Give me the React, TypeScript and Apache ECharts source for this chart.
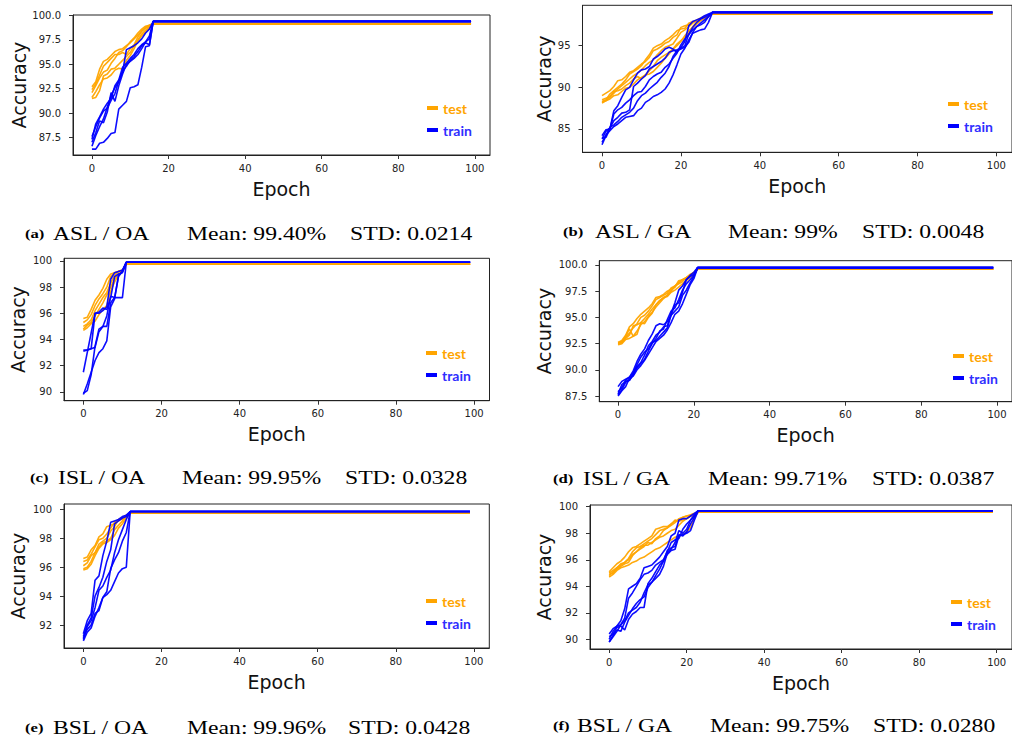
import React, { useEffect, useRef } from "react";
import * as echarts from "echarts";

// Each run: accuracy per epoch during the ramp; the last value is held flat until LAST_EPOCH.
const LAST_EPOCH = 99;
const X_TICKS = [0, 20, 40, 60, 80, 100];

// (a) ASL / OA
const A_TEST = [
  [92.7, 93.2, 94.5, 95.3, 95.5, 95.9, 96.3, 96.5, 96.6, 96.9, 97.2, 97.6, 98.0, 98.4, 98.7, 98.9, 99.2],
  [92.1, 92.8, 93.6, 94.2, 94.4, 95.1, 95.6, 96.2, 96.4, 96.8, 97.3, 97.7, 98.2, 98.6, 98.9, 99.0, 99.1],
  [91.5, 91.6, 92.3, 93.8, 94.0, 94.5, 94.6, 95.0, 95.4, 95.8, 96.2, 96.9, 97.5, 98.1, 98.5, 98.8, 99.15],
  [91.6, 92.2, 92.9, 93.5, 93.6, 93.9, 94.4, 94.6, 94.5, 95.4, 95.9, 96.6, 97.4, 97.9, 98.3, 98.7, 99.1],
  [92.4, 93.0, 93.9, 94.8, 95.2, 95.6, 96.0, 96.0, 96.2, 96.0, 96.6, 97.0, 97.8, 98.4, 98.8, 99.0, 99.2],
];
const A_TRAIN = [
  [87.6, 88.6, 89.5, 90.2, 90.5, 91.3, 92.0, 93.3, 94.2, 96.5, 96.7, 96.9, 97.2, 97.6, 98.2, 98.6, 99.4],
  [87.3, 88.9, 89.6, 90.4, 91.0, 91.5, 92.8, 93.4, 94.7, 95.1, 95.6, 96.0, 96.6, 97.0, 97.3, 97.6, 99.4],
  [86.6, 87.7, 88.6, 89.4, 90.6, 91.8, 92.6, 93.2, 94.3, 94.8, 95.4, 95.8, 96.3, 96.9, 97.2, 97.0, 99.4],
  [86.3, 86.3, 86.9, 87.0, 87.4, 87.9, 88.0, 90.4, 90.8, 91.2, 92.6, 92.7, 92.9, 94.7, 96.8, 96.9, 99.4],
  [87.0, 88.0, 89.2, 89.0, 90.1, 92.1, 91.2, 92.8, 94.0, 95.0, 95.3, 95.6, 96.0, 96.6, 97.3, 97.9, 99.4],
];
const A_YTICKS = [87.5, 90.0, 92.5, 95.0, 97.5, 100.0];

// (b) ASL / GA
const B_TEST = [
  [89.0, 89.3, 89.6, 90.1, 90.8, 90.9, 91.3, 91.8, 92.0, 92.4, 92.8, 93.1, 93.6, 94.4, 94.6, 94.9, 95.3, 95.5, 96.0, 96.3, 97.2, 97.4, 97.5, 97.8, 98.0, 98.2, 98.5, 98.6, 98.8],
  [88.3, 88.5, 89.2, 89.6, 90.0, 90.4, 90.9, 91.6, 91.9, 92.2, 92.6, 93.3, 93.9, 94.7, 95.0, 95.2, 95.6, 95.9, 96.3, 96.8, 97.0, 97.1, 97.7, 97.9, 98.0, 98.3, 98.5, 98.6, 98.8],
  [88.1, 88.4, 88.6, 89.0, 89.1, 89.5, 89.9, 90.0, 90.4, 90.9, 91.2, 91.5, 92.0, 92.5, 93.2, 93.6, 93.9, 94.2, 94.6, 95.0, 95.5, 96.2, 96.8, 97.2, 97.6, 98.0, 98.3, 98.5, 98.8],
  [88.5, 88.7, 88.9, 89.5, 89.6, 89.8, 90.2, 90.5, 91.0, 91.3, 91.0, 91.5, 91.6, 91.9, 92.4, 92.9, 93.5, 94.0, 94.6, 95.2, 95.6, 96.0, 96.5, 97.3, 97.8, 98.1, 98.4, 98.6, 98.8],
  [88.2, 88.4, 88.8, 89.3, 89.8, 90.2, 90.6, 91.0, 91.4, 91.7, 92.1, 92.6, 93.0, 93.3, 93.9, 94.4, 94.8, 95.0, 95.2, 95.9, 96.6, 96.9, 97.3, 97.7, 98.1, 98.3, 98.4, 98.6, 98.8],
];
const B_TRAIN = [
  [84.2, 84.9, 85.0, 87.2, 87.8, 88.8, 89.7, 90.0, 90.9, 91.7, 92.1, 92.2, 92.5, 93.4, 93.7, 94.1, 94.6, 94.8, 94.6, 94.2, 94.8, 95.5, 97.4, 97.9, 98.1, 98.3, 98.6, 98.8, 99.0],
  [83.8, 84.7, 85.1, 86.0, 86.4, 86.9, 87.0, 87.3, 90.1, 90.5, 91.0, 91.4, 92.2, 92.5, 92.8, 93.1, 93.5, 94.2, 94.4, 94.5, 94.7, 95.0, 96.4, 97.2, 97.8, 98.2, 98.4, 98.7, 99.0],
  [83.1, 84.2, 85.2, 85.5, 85.9, 86.4, 86.7, 87.0, 87.5, 88.4, 89.0, 89.3, 89.8, 90.2, 90.6, 91.2, 91.7, 92.5, 93.7, 94.4, 94.6, 94.8, 95.4, 96.6, 97.3, 97.5, 97.8, 98.5, 99.0],
  [83.4, 84.3, 84.8, 85.3, 85.6, 86.0, 86.4, 86.5, 86.6, 87.2, 87.5, 88.2, 88.5, 88.9, 89.1, 89.4, 89.8, 90.5, 91.5, 92.7, 94.0, 94.7, 95.7, 96.5, 96.7, 96.9, 97.0, 97.8, 99.0],
  [83.9, 84.0, 85.0, 86.8, 87.3, 87.6, 88.1, 88.5, 89.0, 89.4, 89.5, 90.1, 90.9, 91.3, 91.6, 91.8, 92.4, 92.8, 93.5, 94.1, 95.1, 95.8, 96.3, 96.9, 97.3, 97.7, 98.1, 98.5, 99.0],
];
const B_YTICKS = [85, 90, 95];

// (c) ISL / OA
const C_TEST = [
  [95.6, 95.7, 96.3, 97.0, 97.4, 97.9, 98.6, 99.0, 99.1, 99.2, 99.3, 99.75],
  [95.3, 95.5, 95.9, 96.6, 97.1, 97.5, 98.0, 98.8, 99.1, 99.2, 99.3, 99.75],
  [95.0, 95.2, 95.5, 96.2, 96.7, 97.2, 97.6, 98.3, 98.9, 99.2, 99.25, 99.75],
  [94.8, 95.1, 95.3, 95.8, 96.3, 96.8, 97.4, 98.0, 98.6, 99.0, 99.2, 99.75],
  [94.7, 94.9, 95.2, 95.4, 95.9, 96.3, 96.6, 97.7, 98.4, 98.9, 99.2, 99.75],
];
const C_TRAIN = [
  [93.2, 93.2, 93.3, 96.0, 96.0, 96.2, 96.5, 98.6, 99.1, 99.2, 99.3, 99.9],
  [91.5, 93.0, 94.5, 96.0, 96.1, 96.4, 96.3, 97.2, 98.8, 99.0, 99.1, 99.9],
  [89.9, 90.1, 91.3, 93.5, 94.8, 95.0, 95.0, 96.8, 97.2, 97.2, 97.2, 99.9],
  [89.8, 90.6, 91.5, 92.4, 93.0, 93.3, 93.9, 96.5, 97.1, 98.9, 99.2, 99.9],
  [93.1, 93.2, 93.3, 93.4, 94.6, 95.0, 95.8, 97.3, 97.2, 98.8, 99.2, 99.9],
];
const C_YTICKS = [90, 92, 94, 96, 98, 100];

// (d) ISL / GA
const D_TEST = [
  [92.6, 92.8, 93.3, 94.1, 94.4, 94.9, 95.3, 95.6, 95.9, 96.3, 96.9, 97.0, 97.2, 97.5, 97.7, 97.9, 98.3, 98.6, 98.7, 98.9, 99.2, 99.6],
  [92.5, 92.7, 93.1, 93.5, 94.0, 94.4, 95.0, 95.2, 95.6, 96.1, 96.7, 96.9, 97.1, 97.3, 97.8, 98.0, 98.2, 98.4, 98.8, 99.0, 99.2, 99.6],
  [92.4, 92.5, 92.9, 93.0, 93.2, 93.4, 94.5, 94.9, 95.3, 95.8, 96.2, 96.6, 96.9, 97.0, 97.4, 97.6, 97.9, 98.2, 98.5, 98.8, 99.1, 99.6],
  [92.6, 92.6, 93.2, 93.9, 93.2, 93.7, 94.3, 94.6, 95.1, 95.5, 96.0, 96.4, 96.8, 97.1, 97.6, 97.9, 98.5, 98.6, 98.8, 99.0, 99.3, 99.6],
  [92.5, 92.6, 93.0, 93.3, 94.2, 94.3, 94.5, 94.4, 95.0, 95.4, 96.2, 96.6, 96.9, 97.1, 97.5, 98.0, 98.3, 98.6, 98.8, 99.1, 99.3, 99.6],
];
const D_TRAIN = [
  [88.4, 88.9, 89.1, 89.3, 89.9, 90.8, 91.5, 92.0, 92.8, 93.4, 94.2, 94.4, 94.3, 94.6, 95.2, 96.2, 96.4, 97.4, 98.6, 99.0, 99.3, 99.75],
  [87.7, 88.6, 88.9, 89.0, 89.6, 90.3, 90.7, 91.4, 92.3, 92.7, 93.3, 93.6, 94.1, 94.2, 95.4, 96.4, 97.6, 98.0, 98.6, 98.9, 99.1, 99.75],
  [87.6, 88.1, 88.8, 89.0, 89.5, 90.2, 90.6, 91.0, 91.8, 92.5, 93.0, 93.7, 93.9, 94.8, 95.6, 95.9, 96.7, 97.6, 98.2, 98.6, 99.0, 99.75],
  [87.9, 88.3, 89.0, 89.3, 89.7, 90.5, 91.2, 91.7, 92.0, 92.6, 92.8, 93.2, 93.6, 94.0, 95.2, 95.6, 96.0, 97.1, 97.6, 98.3, 98.9, 99.75],
  [87.5, 88.0, 88.4, 89.2, 89.4, 90.0, 90.4, 90.9, 91.5, 92.1, 92.7, 93.0, 93.3, 93.8, 94.5, 95.3, 95.6, 96.3, 97.2, 98.1, 98.7, 99.75],
];
const D_YTICKS = [87.5, 90.0, 92.5, 95.0, 97.5, 100.0];

// (e) BSL / OA
const E_TEST = [
  [96.6, 96.7, 97.2, 97.5, 98.1, 98.3, 98.8, 98.9, 99.0, 99.3, 99.4, 99.6, 99.75],
  [96.4, 96.5, 96.9, 97.4, 97.9, 98.0, 98.3, 98.7, 99.1, 99.2, 99.4, 99.5, 99.75],
  [96.1, 96.3, 96.8, 97.0, 97.6, 97.8, 98.0, 98.5, 98.8, 99.3, 99.3, 99.6, 99.75],
  [95.9, 96.0, 96.4, 97.0, 97.4, 97.7, 97.8, 98.0, 98.6, 98.9, 99.2, 99.5, 99.75],
  [95.8, 95.9, 96.2, 96.8, 97.3, 97.6, 97.7, 97.9, 98.2, 98.7, 99.0, 99.4, 99.75],
];
const E_TRAIN = [
  [91.4, 92.3, 92.8, 95.1, 95.4, 96.8, 97.8, 99.1, 99.2, 99.3, 99.5, 99.6, 99.85],
  [91.2, 92.0, 92.5, 94.0, 94.6, 95.3, 96.4, 97.2, 99.0, 99.2, 99.4, 99.5, 99.85],
  [91.0, 91.9, 92.3, 93.2, 94.4, 94.7, 95.3, 95.8, 97.0, 97.9, 98.6, 99.3, 99.85],
  [90.9, 91.5, 91.8, 92.6, 93.2, 93.9, 94.3, 95.9, 96.5, 97.0, 97.8, 98.4, 99.85],
  [91.1, 91.7, 92.0, 92.8, 93.0, 93.9, 94.1, 94.4, 95.0, 95.6, 95.9, 96.0, 99.85],
];
const E_YTICKS = [92, 94, 96, 98, 100];

// (f) BSL / GA
const F_TEST = [
  [95.1, 95.4, 95.7, 95.9, 96.2, 96.6, 96.9, 97.0, 97.2, 97.4, 97.6, 97.8, 98.3, 98.4, 98.5, 98.5, 98.7, 98.9, 99.0, 99.2, 99.3, 99.4, 99.5, 99.6],
  [95.0, 95.2, 95.4, 95.7, 95.8, 96.1, 96.6, 96.9, 97.0, 97.2, 97.4, 97.6, 97.9, 98.2, 98.3, 98.4, 98.6, 98.8, 99.1, 99.2, 99.3, 99.3, 99.4, 99.6],
  [94.8, 95.1, 95.3, 95.5, 95.7, 95.8, 96.3, 96.6, 96.8, 97.0, 97.3, 97.2, 97.6, 97.8, 98.2, 98.4, 98.7, 99.0, 98.9, 99.0, 99.1, 99.3, 99.4, 99.6],
  [94.7, 94.9, 95.2, 95.4, 95.5, 95.6, 95.8, 95.9, 96.1, 96.2, 96.4, 96.6, 96.8, 96.9, 97.1, 97.3, 97.5, 97.7, 97.8, 97.9, 98.1, 98.4, 99.2, 99.6],
  [94.9, 95.0, 95.4, 95.6, 95.8, 96.0, 96.4, 96.6, 96.9, 97.1, 97.1, 97.3, 97.5, 97.7, 97.8, 98.0, 98.2, 98.3, 98.6, 98.9, 99.1, 99.3, 99.4, 99.6],
];
const F_TRAIN = [
  [90.4, 90.8, 91.0, 91.4, 92.3, 93.8, 94.0, 94.2, 94.6, 95.4, 95.5, 95.6, 95.9, 96.2, 96.6, 97.0, 97.8, 98.0, 99.0, 99.1, 99.1, 99.3, 99.5, 99.7],
  [90.0, 90.6, 91.0, 91.1, 91.6, 93.1, 93.5, 94.0, 94.5, 94.9, 95.0, 95.2, 95.6, 95.8, 96.0, 96.6, 97.3, 97.5, 97.6, 98.3, 98.7, 99.0, 99.4, 99.7],
  [89.8, 90.3, 90.7, 90.6, 91.3, 91.8, 92.3, 92.7, 93.0, 93.2, 93.9, 94.3, 94.6, 94.9, 95.5, 96.5, 96.8, 97.3, 98.2, 98.0, 98.3, 99.0, 99.3, 99.7],
  [89.8, 90.2, 90.6, 91.1, 91.4, 92.0, 92.2, 92.4, 92.8, 93.5, 94.1, 94.3, 94.8, 95.3, 95.9, 96.7, 96.9, 97.0, 97.9, 97.8, 98.1, 98.7, 99.2, 99.7],
  [90.2, 90.4, 90.9, 91.0, 90.7, 91.5, 91.9, 92.1, 92.4, 92.4, 94.2, 94.6, 95.1, 95.6, 95.9, 96.4, 96.7, 96.8, 97.8, 97.9, 98.0, 98.2, 99.0, 99.7],
];
const F_YTICKS = [90, 92, 94, 96, 98, 100];

const CAPTIONS = [
  ["(a)", "ASL / OA", "Mean: 99.40%", "STD: 0.0214"],
  ["(b)", "ASL / GA", "Mean: 99%", "STD: 0.0048"],
  ["(c)", "ISL / OA", "Mean: 99.95%", "STD: 0.0328"],
  ["(d)", "ISL / GA", "Mean: 99.71%", "STD: 0.0387"],
  ["(e)", "BSL / OA", "Mean: 99.96%", "STD: 0.0428"],
  ["(f)", "BSL / GA", "Mean: 99.75%", "STD: 0.0280"],
];

const PANELS = [
  { test: A_TEST, train: A_TRAIN, yTicks: A_YTICKS, dec: 1 },
  { test: B_TEST, train: B_TRAIN, yTicks: B_YTICKS, dec: 0 },
  { test: C_TEST, train: C_TRAIN, yTicks: C_YTICKS, dec: 0 },
  { test: D_TEST, train: D_TRAIN, yTicks: D_YTICKS, dec: 1 },
  { test: E_TEST, train: E_TRAIN, yTicks: E_YTICKS, dec: 0 },
  { test: F_TEST, train: F_TRAIN, yTicks: F_YTICKS, dec: 0 },
];

// layout (pixels) and axis extents
const LAYOUT = [
  { left: 73, top: 15, width: 417, height: 140, ymin: 85.7, ymax: 100.05, yGap: 45, lx: 427, ly: 101, capY: 234, capX: [25, 53, 187, 350] },
  { left: 582.5, top: 5.3, width: 433.4, height: 147, ymin: 82.2, ymax: 99.85, yGap: 29, lx: 948, ly: 97, capY: 232, capX: [563, 595, 728, 862] },
  { left: 64, top: 258.3, width: 425.5, height: 142.4, ymin: 89.33, ymax: 100.2, yGap: 36.5, lx: 426, ly: 346, capY: 478, capX: [30, 58, 182, 345] },
  { left: 599.3, top: 260.7, width: 421, height: 141, ymin: 86.96, ymax: 100.41, yGap: 46, lx: 953, ly: 349, capY: 479, capX: [553, 583, 708, 872] },
  { left: 64, top: 504, width: 425.3, height: 144, ymin: 90.41, ymax: 100.37, yGap: 36.5, lx: 426, ly: 594, capY: 727.5, capX: [25, 53, 187, 348] },
  { left: 590, top: 505, width: 425.8, height: 144, ymin: 89.27, ymax: 100.13, yGap: 36.5, lx: 951, ly: 595, capY: 725.5, capX: [553, 577, 710, 873] },
];

const ORANGE = "#FFA500";
const BLUE = "#0000FF";

function runData(run: number[]) {
  const pts: [number, number][] = run.map((v, i) => [i, v]);
  pts.push([LAST_EPOCH, run[run.length - 1]]);
  return pts;
}

function buildOption() {
  const grid: any[] = [];
  const xAxis: any[] = [];
  const yAxis: any[] = [];
  const series: any[] = [];
  const legend: any[] = [];
  const graphic: any[] = [];

  PANELS.forEach((p, i) => {
    const L = LAYOUT[i];
    grid.push({
      left: L.left, top: L.top, width: L.width, height: L.height,
      show: true, borderColor: "#222", borderWidth: 1, backgroundColor: "#fff",
    });
    xAxis.push({
      type: "value", gridIndex: i, min: -4.95, max: 103.95,
      name: "Epoch", nameLocation: "middle", nameGap: 24,
      nameTextStyle: { fontFamily: "DejaVu Sans", fontSize: 19, color: "#111" },
      axisLine: { show: true, onZero: false, lineStyle: { color: "#222", width: 1 } },
      axisTick: { show: true, length: 4, customValues: X_TICKS, lineStyle: { color: "#333" } },
      axisLabel: { show: true, customValues: X_TICKS, margin: 8, fontFamily: "DejaVu Sans", fontSize: 10, color: "#222" },
      splitLine: { show: false },
    });
    yAxis.push({
      type: "value", gridIndex: i, min: L.ymin, max: L.ymax,
      name: "Accuracy", nameLocation: "middle", nameGap: L.yGap,
      nameTextStyle: { fontFamily: "DejaVu Sans", fontSize: 19, color: "#111" },
      axisLine: { show: true, onZero: false, lineStyle: { color: "#222", width: 1 } },
      axisTick: { show: true, length: 4, customValues: p.yTicks, lineStyle: { color: "#333" } },
      axisLabel: {
        show: true, customValues: p.yTicks, margin: 12, fontFamily: "DejaVu Sans", fontSize: 10, color: "#222",
        formatter: (v: number) => v.toFixed(p.dec),
      },
      splitLine: { show: false },
    });
    p.test.forEach((run) => {
      series.push({
        type: "line", name: "test", xAxisIndex: i, yAxisIndex: i, data: runData(run),
        symbol: "none", showSymbol: false, silent: true,
        lineStyle: { color: ORANGE, width: 1.6, opacity: 0.95 }, itemStyle: { color: ORANGE },
      });
    });
    p.train.forEach((run) => {
      series.push({
        type: "line", name: "train", xAxisIndex: i, yAxisIndex: i, data: runData(run),
        symbol: "none", showSymbol: false, silent: true,
        lineStyle: { color: BLUE, width: 1.6, opacity: 0.95 }, itemStyle: { color: BLUE },
      });
    });
    legend.push({
      show: true, orient: "vertical", left: L.lx, top: L.ly, padding: 0,
      icon: "rect", itemWidth: 11, itemHeight: 4, itemGap: 8, selectedMode: false,
      textStyle: { fontFamily: "Lato", fontWeight: "bold", fontSize: 14 },
      data: [
        { name: "test", textStyle: { color: ORANGE } },
        { name: "train", textStyle: { color: "#2f2fff" } },
      ],
    });
    const cap = CAPTIONS[i];
    cap.forEach((t, k) => {
      graphic.push({
        type: "text", x: L.capX[k], y: L.capY, scaleX: 1.28, silent: true,
        style: {
          text: t, fill: "#000",
          fontFamily: "Liberation Serif",
          fontSize: k === 0 ? 13 : 18.5,
          fontWeight: k === 0 ? "bold" : "normal",
          align: "left", verticalAlign: "middle",
        },
      });
    });
  });

  return { animation: false, backgroundColor: "#fff", grid, xAxis, yAxis, series, legend, graphic };
}

export default function App() {
  const ref = useRef<HTMLDivElement>(null);
  useEffect(() => {
    if (!ref.current) return;
    const chart = echarts.init(ref.current, undefined, { renderer: "svg" });
    chart.setOption(buildOption() as any);
    return () => chart.dispose();
  }, []);
  return (
    <div
      ref={ref}
      style={{ position: "absolute", left: 0, top: 0, width: 1012, height: 737, background: "#fff" }}
    />
  );
}
